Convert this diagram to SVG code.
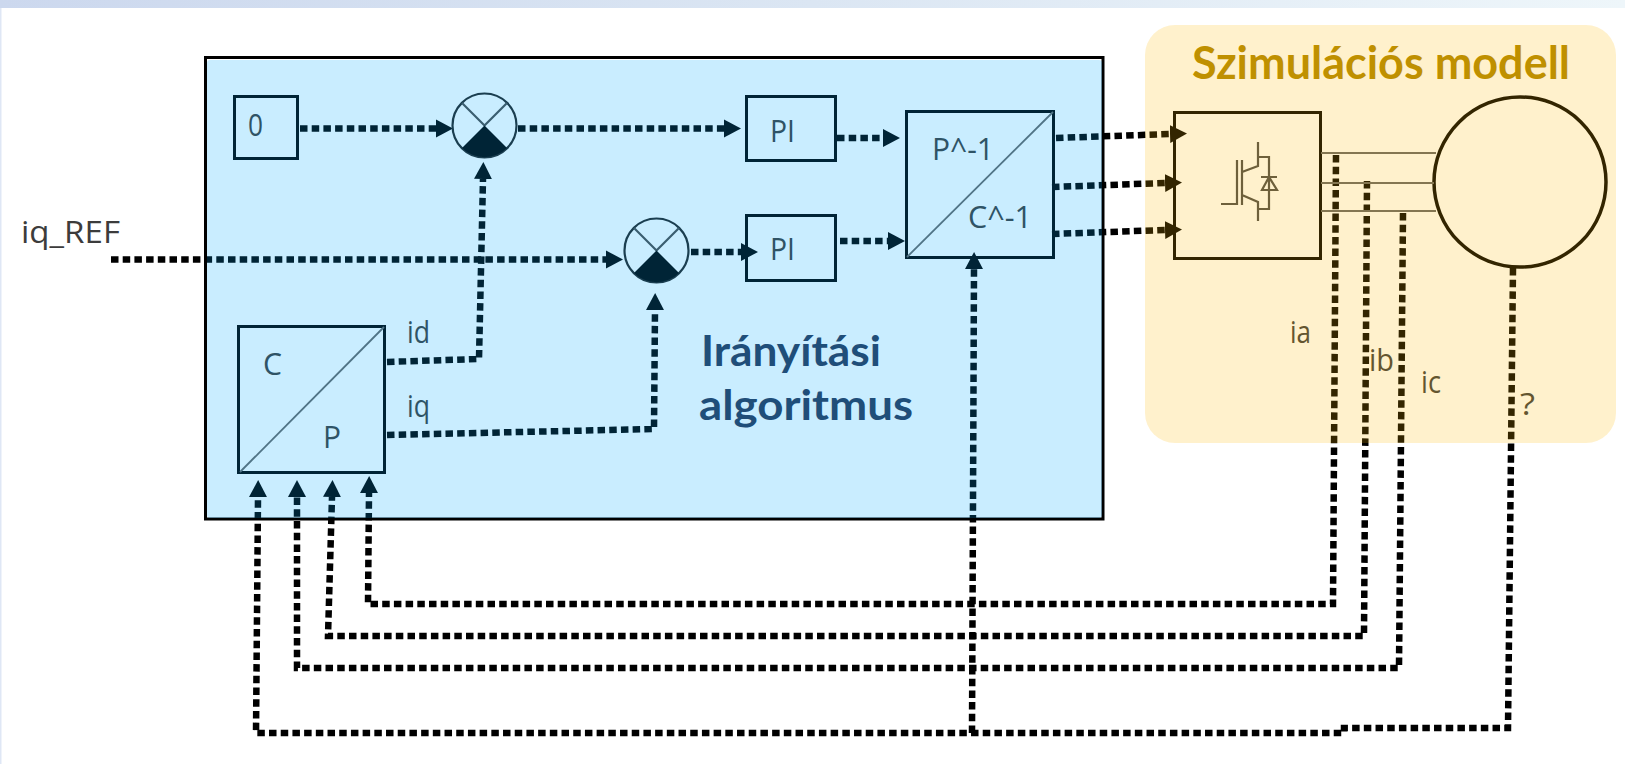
<svg xmlns="http://www.w3.org/2000/svg" width="1625" height="764" viewBox="0 0 1625 764">
<style>
.box{fill:none;stroke:#000;stroke-width:3}
.thin{fill:none;stroke:#666;stroke-width:1.8}
.sym{fill:none;stroke:#4a4a4a;stroke-width:2.2}
.dot{fill:none;stroke:#000;stroke-width:6.500;stroke-dasharray:7.500 4.200}
.arr{marker-end:url(#head)}
.lbl{font-family:"Open Sans","Liberation Sans",sans-serif;font-size:31px;fill:#3c3c3c}
.big{font-family:Lato,"Liberation Sans",sans-serif;font-weight:700}
</style>
<defs>
<linearGradient id="band" x1="0" x2="1" y1="0" y2="0"><stop offset="0" stop-color="#ccd8ee"/><stop offset=".5" stop-color="#dbe6f3"/><stop offset="1" stop-color="#eef6fa"/></linearGradient>
<marker id="head" markerUnits="userSpaceOnUse" markerWidth="18" markerHeight="20" refX="0" refY="10" orient="auto"><path d="M0 1 L17 10 L0 19 Z" fill="#000"/></marker>
</defs>
<rect width="1625" height="764" fill="#fff"/>
<g id="page-edge"><rect width="1625" height="8" fill="url(#band)"/><rect y="8" width="1.5" height="756" fill="#dfe7f5"/></g>
<g id="connectors">
<path class="dot arr" d="M300 128.500H436"/>
<path class="dot arr" d="M518 128.500H724"/>
<path class="dot arr" d="M111 259.500H606"/>
<path class="dot arr" d="M691 252H741"/>
<path class="dot arr" d="M837 138H883"/>
<path class="dot arr" d="M840 241H888"/>
<path class="dot arr" d="M1056 138L1170 134"/>
<path class="dot arr" d="M1052 187L1165 183"/>
<path class="dot arr" d="M1052 234L1165 230"/>
<path class="dot arr" d="M387 362L479 359L483 179"/>
<path class="dot arr" d="M387 435L654 429L655 310"/>
<path class="dot arr" d="M1336 155L1333 604H368L369 493"/>
<path class="dot arr" d="M1367 181L1364 636H328L332 497"/>
<path class="dot arr" d="M1403 213L1399 668H297V497"/>
<path class="dot arr" d="M1513 268L1508 728H1344L1344 733H256L258 497"/>
<path class="dot arr" d="M972 733L974 269"/>
</g>
<g id="node-zero"><rect class="box" x="234.500" y="96.500" width="63" height="62"/><text class="lbl" x="248" y="136" textLength="15" lengthAdjust="spacingAndGlyphs">0</text></g>
<g id="node-sum-d"><circle cx="484.500" cy="125.500" r="32" fill="#fff" stroke="#222" stroke-width="2.200"/><path class="sym" d="M462 103L484.500 125.500L507 103"/><path d="M484.500 125.500L507 148A32 32 0 0 1 462 148Z" fill="#000"/></g>
<g id="node-sum-q"><circle cx="656.500" cy="250.500" r="32" fill="#fff" stroke="#222" stroke-width="2.200"/><path class="sym" d="M634 228L656.500 250.500L679 228"/><path d="M656.500 250.500L679 273A32 32 0 0 1 634 273Z" fill="#000"/></g>
<g id="node-pi-d"><rect class="box" x="746.500" y="96.500" width="89" height="64"/><text class="lbl" x="770" y="142" textLength="25" lengthAdjust="spacingAndGlyphs">PI</text></g>
<g id="node-pi-q"><rect class="box" x="746.500" y="215.500" width="89" height="65"/><text class="lbl" x="770" y="260" textLength="25" lengthAdjust="spacingAndGlyphs">PI</text></g>
<g id="node-pc-inv"><rect class="box" x="906.500" y="111.500" width="147" height="146"/><path class="thin" d="M907 257L1053 112"/><text class="lbl" x="932" y="160" textLength="62" lengthAdjust="spacingAndGlyphs">P^-1</text><text class="lbl" x="968" y="228" textLength="64" lengthAdjust="spacingAndGlyphs">C^-1</text></g>
<g id="node-cp"><rect class="box" x="238.500" y="326.500" width="146" height="146"/><path class="thin" d="M240 472L384 327"/><text class="lbl" x="263" y="375" textLength="19" lengthAdjust="spacingAndGlyphs">C</text><text class="lbl" x="323" y="448" textLength="18" lengthAdjust="spacingAndGlyphs">P</text></g>
<g id="node-inverter"><rect class="box" x="1174.500" y="112.500" width="146" height="146"/>
<path class="sym" d="M1221 204H1237V160M1242 160V205M1242 172L1258 166V142M1258 157H1269V209H1258M1242 195L1258 202V221M1261 177H1277M1269 177L1262 190H1277Z"/></g>
<g id="node-motor"><ellipse cx="1520" cy="182" rx="86" ry="85" fill="none" stroke="#000" stroke-width="3.500"/>
<path class="thin" d="M1321 153H1436M1321 183H1434M1321 211H1436"/></g>
<g id="labels">
<text class="lbl" x="21" y="243" textLength="99" lengthAdjust="spacingAndGlyphs">iq_REF</text>
<text class="lbl" x="407" y="343" textLength="23" lengthAdjust="spacingAndGlyphs">id</text>
<text class="lbl" x="407" y="417" textLength="23" lengthAdjust="spacingAndGlyphs">iq</text>
<text class="lbl" x="1290" y="343" textLength="21" lengthAdjust="spacingAndGlyphs">ia</text>
<text class="lbl" x="1369" y="371" textLength="25" lengthAdjust="spacingAndGlyphs">ib</text>
<text class="lbl" x="1421" y="393" textLength="20" lengthAdjust="spacingAndGlyphs">ic</text>
<text class="lbl" x="1520" y="415" textLength="15" lengthAdjust="spacingAndGlyphs">?</text>
</g>
<g id="region-tints">
<path d="M205.500 519V57.500H1103V519Z" fill="none" stroke="#000" stroke-width="3"/>
<rect x="207" y="60" width="895" height="458" rx="3" fill="rgb(0,170,255)" fill-opacity=".21"/>
<rect x="1145" y="25" width="471" height="418" rx="30" fill="rgb(255,185,0)" fill-opacity=".2"/>
</g>
<g id="region-titles">
<text class="big" x="701" y="366" font-size="42" fill="#1f4e79" textLength="180" lengthAdjust="spacingAndGlyphs">Irányítási</text>
<text class="big" x="699" y="420" font-size="42" fill="#1f4e79" textLength="214" lengthAdjust="spacingAndGlyphs">algoritmus</text>
<text class="big" x="1192" y="79" font-size="46" fill="#bf9000" textLength="378" lengthAdjust="spacingAndGlyphs">Szimulációs modell</text>
</g>
</svg>
